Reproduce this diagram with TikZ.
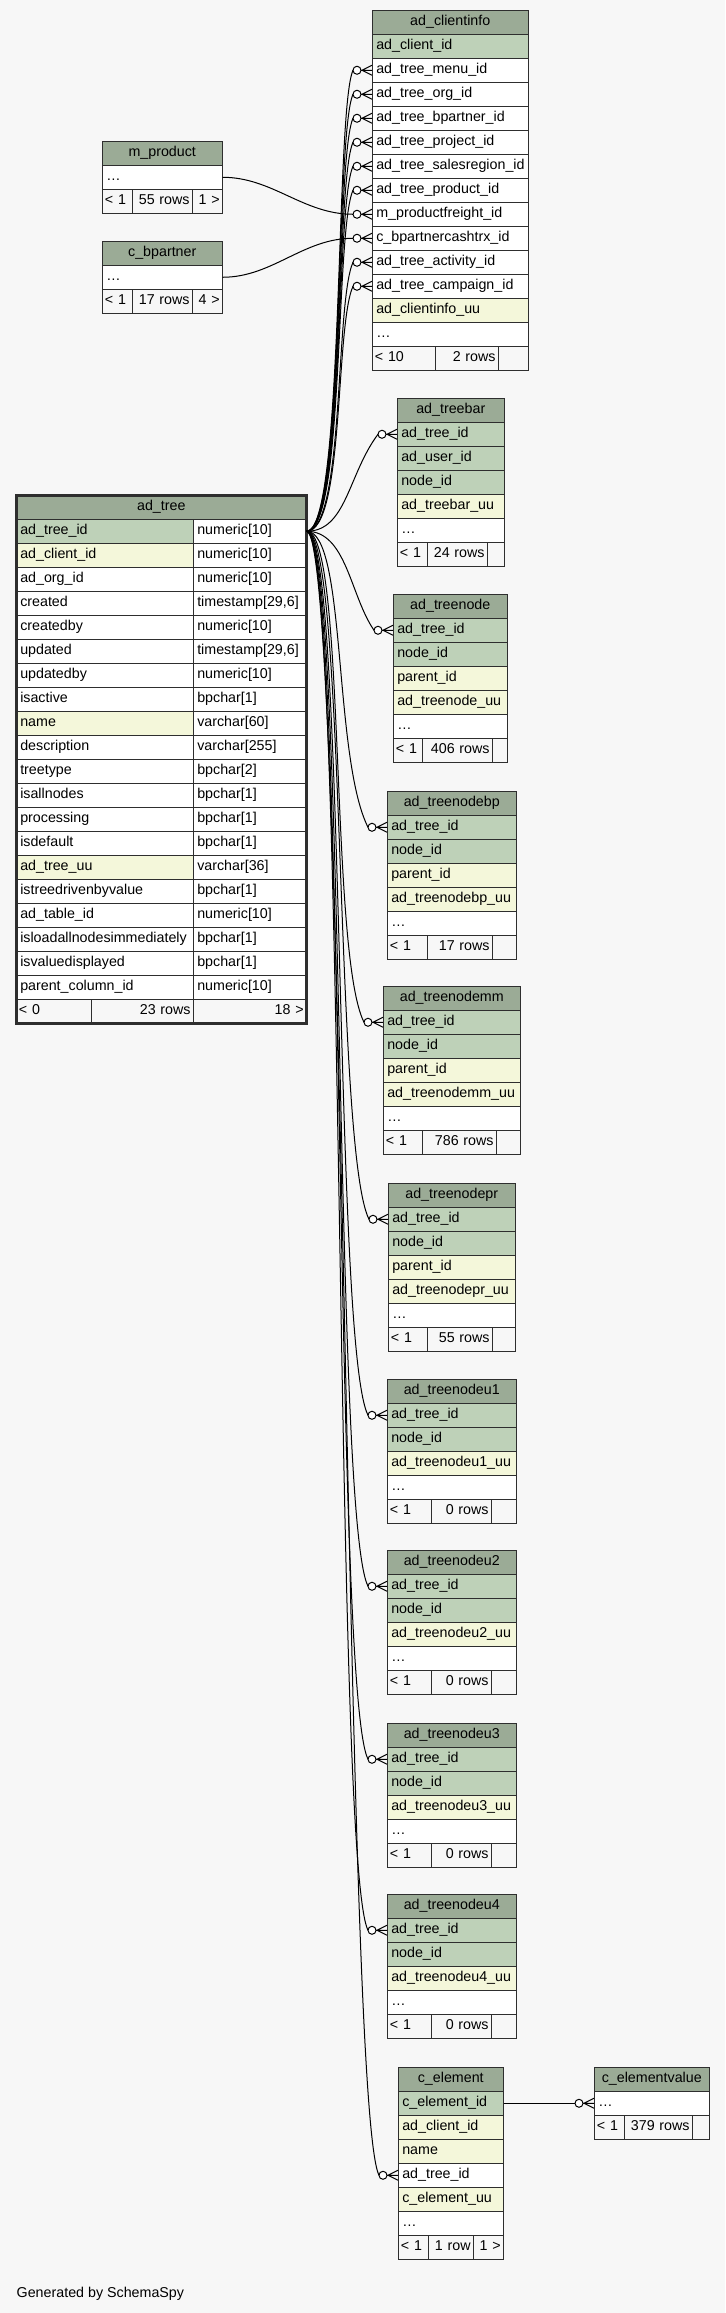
\documentclass[tikz,border=0pt]{standalone}
\usepackage{fontspec}
\setmainfont{Liberation Sans}
\usetikzlibrary{positioning, calc}

\definecolor{hdrc}{HTML}{9BAB96}
\definecolor{pkc}{HTML}{BED1B8}
\definecolor{idxc}{HTML}{F4F7DA}
\definecolor{bgc}{HTML}{F7F7F7}
\definecolor{bdr}{HTML}{2E2E2E}

% table: name, x, y (top, px), width (px), title, rows text/colour
\newcommand{\dbtable}[6]{%
  \pgfmathsetmacro\tw{#4*0.75-6}%
  \node[hdr, minimum width=#4*0.75pt] (#1) at (#2,#3) {#5};
  \foreach \txt/\clr [count=\i] in {#6} {
    \node[cell, fill=\clr, text width=\tw pt] (#1-\i) at (#2,{#3+24*\i}) {\txt};
  }%
}
% footer row: name, y, cells x-from/x-to/text/align
\newcommand{\dbfoot}[3]{%
  \foreach \xa/\xb/\txt/\al [count=\i] in {#3} {
    \pgfmathsetmacro\fw{(\xb-\xa)*0.75-4}
    \node[cell, fill=bgc, inner xsep=2pt, text width=\fw pt, align=\al] (#1-f\i) at (\xa,#2) {\mbox{\txt}};
  }%
}

\begin{document}
\begin{tikzpicture}[x=0.75pt, y=-0.75pt,
    font=\fontsize{10.7}{12}\selectfont,
    hdr/.style={draw=bdr, fill=hdrc, anchor=north west, minimum height=18pt,
      inner sep=0pt, text height=8pt, text depth=2.5pt},
    cell/.style={draw=bdr, anchor=north west, minimum height=18pt, inner xsep=3pt,
      inner ysep=0pt, text height=8pt, text depth=2.5pt, align=left},
    fk/.style={draw=black, line width=0.75pt},
    crow/.pic={
      \draw[line width=0.75pt] (-10,0) -- (0,-5) (-10,0) -- (0,0) (-10,0) -- (0,5) (-11,0) -- (-10,0);
      \draw[line width=0.75pt, fill=white] (-15,0) circle[radius=3pt];
    }
  ]
  \fill[bgc] (0,0) rectangle (725,2313);
  \useasboundingbox (0,0) rectangle (725,2313);

  % tables
  \dbtable{ci}{372}{10}{156}{ad\_clientinfo}{ad\_client\_id/pkc, ad\_tree\_menu\_id/white,
    ad\_tree\_org\_id/white, ad\_tree\_bpartner\_id/white, ad\_tree\_project\_id/white,
    ad\_tree\_salesregion\_id/white, ad\_tree\_product\_id/white, m\_productfreight\_id/white,
    c\_bpartnercashtrx\_id/white, ad\_tree\_activity\_id/white, ad\_tree\_campaign\_id/white,
    ad\_clientinfo\_uu/idxc, \ldots/white}
  \dbfoot{ci}{346}{372/435/< 10/left, 435/498/2 rows/right, 498/528//left}

  \dbtable{mp}{102}{141}{120}{m\_product}{\ldots/white}
  \dbfoot{mp}{189}{102/132/< 1/left, 132/192/55 rows/right, 192/222/1 >/right}

  \dbtable{bp}{102}{241}{120}{c\_bpartner}{\ldots/white}
  \dbfoot{bp}{289}{102/132/< 1/left, 132/192/17 rows/right, 192/222/4 >/right}

  % ad_tree, two columns
  \node[hdr, minimum width=217.5pt] (tr) at (16,495) {ad\_tree};
  \foreach \nm/\ty/\clr [count=\i] in {ad\_tree\_id/numeric[10]/pkc, ad\_client\_id/numeric[10]/idxc,
      ad\_org\_id/numeric[10]/white, created/{timestamp[29,6]}/white, createdby/numeric[10]/white,
      updated/{timestamp[29,6]}/white, updatedby/numeric[10]/white, isactive/bpchar[1]/white,
      name/varchar[60]/idxc, description/varchar[255]/white, treetype/bpchar[2]/white,
      isallnodes/bpchar[1]/white, processing/bpchar[1]/white, isdefault/bpchar[1]/white,
      ad\_tree\_uu/varchar[36]/idxc, istreedrivenbyvalue/bpchar[1]/white, ad\_table\_id/numeric[10]/white,
      isloadallnodesimmediately/bpchar[1]/white, isvaluedisplayed/bpchar[1]/white,
      parent\_column\_id/numeric[10]/white} {
    \node[cell, fill=\clr, text width=126.75pt] (tr-\i) at (16,{495+24*\i}) {\nm};
    \node[cell, fill=white, text width=78.75pt] (tr-\i-t) at (193,{495+24*\i}) {\ty};
  }
  \dbfoot{tr}{999}{16/91/< 0/left, 91/193/23 rows/right, 193/306/18 >/right}
  \draw[bdr, line width=2.25pt] (tr.north west) rectangle (tr-f3.south east);

  \dbtable{tb}{397}{398}{107}{ad\_treebar}{ad\_tree\_id/pkc, ad\_user\_id/pkc, node\_id/pkc,
    ad\_treebar\_uu/idxc, \ldots/white}
  \dbfoot{tb}{542}{397/427/< 1/left, 427/487/24 rows/right, 487/504//left}

  \dbtable{tn}{393}{594}{114}{ad\_treenode}{ad\_tree\_id/pkc, node\_id/pkc, parent\_id/idxc,
    ad\_treenode\_uu/idxc, \ldots/white}
  \dbfoot{tn}{738}{393/422/< 1/left, 422/492/406 rows/right, 492/507//left}

  \dbtable{tnbp}{387}{791}{129}{ad\_treenodebp}{ad\_tree\_id/pkc, node\_id/pkc, parent\_id/idxc,
    ad\_treenodebp\_uu/idxc, \ldots/white}
  \dbfoot{tnbp}{935}{387/427/< 1/left, 427/492/17 rows/right, 492/516//left}

  \dbtable{tnmm}{383}{986}{137}{ad\_treenodemm}{ad\_tree\_id/pkc, node\_id/pkc, parent\_id/idxc,
    ad\_treenodemm\_uu/idxc, \ldots/white}
  \dbfoot{tnmm}{1130}{383/422/< 1/left, 422/496/786 rows/right, 496/520//left}

  \dbtable{tnpr}{388}{1183}{127}{ad\_treenodepr}{ad\_tree\_id/pkc, node\_id/pkc, parent\_id/idxc,
    ad\_treenodepr\_uu/idxc, \ldots/white}
  \dbfoot{tnpr}{1327}{388/427/< 1/left, 427/492/55 rows/right, 492/515//left}

  \foreach \u/\yt in {1/1379, 2/1550, 3/1723, 4/1894} {
    \dbtable{tu\u}{387}{\yt}{129}{ad\_treenodeu\u}{ad\_tree\_id/pkc, node\_id/pkc,
      ad\_treenodeu\u\_uu/idxc, \ldots/white}
    \dbfoot{tu\u}{\yt+120}{387/431/< 1/left, 431/491/0 rows/right, 491/516//left}
  }

  \dbtable{ce}{398}{2067}{105}{c\_element}{c\_element\_id/pkc, ad\_client\_id/idxc, name/idxc,
    ad\_tree\_id/white, c\_element\_uu/idxc, \ldots/white}
  \dbfoot{ce}{2235}{398/428/< 1/left, 428/473/1 row/right, 473/503/1 >/right}

  \dbtable{cev}{594}{2067}{115}{c\_elementvalue}{\ldots/white}
  \dbfoot{cev}{2115}{594/624/< 1/left, 624/692/379 rows/right, 692/709//left}

  % foreign keys
  \foreach \r in {2,3,4,5,6,7,10,11} {
    \draw[fk] (tr-1-t.east) .. controls +(38,0) and +(-18,40) .. ([xshift=-14.25pt]ci-\r.west);
    \pic at (ci-\r.west) {crow};
  }
  \draw[fk] (mp-1.east) .. controls +(50,0) and +(-50,0) .. ([xshift=-14.25pt]ci-8.west);
  \pic at (ci-8.west) {crow};
  \draw[fk] (bp-1.east) .. controls +(50,0) and +(-50,0) .. ([xshift=-14.25pt]ci-9.west);
  \pic at (ci-9.west) {crow};

  \draw[fk] (tr-1-t.east) .. controls +(40,0) and +(-30,40) .. ([xshift=-14.25pt]tb-1.west);
  \pic at (tb-1.west) {crow};
  \draw[fk] (tr-1-t.east) .. controls +(40,0) and +(-24,-35) .. ([xshift=-14.25pt]tn-1.west);
  \pic at (tn-1.west) {crow};
  \foreach \tg in {tnbp-1, tnmm-1, tnpr-1, tu1-1, tu2-1, tu3-1, tu4-1, ce-4} {
    \draw[fk] (tr-1-t.east) .. controls +(40,0) and +(-35,-70) .. ([xshift=-14.25pt]\tg.west);
    \pic at (\tg.west) {crow};
  }
  \draw[fk] (ce-1.east) -- ([xshift=-14.25pt]cev-1.west);
  \pic at (cev-1.west) {crow};

  \node[anchor=west] (gen) at (12,2294) {Generated by SchemaSpy};
\end{tikzpicture}
\end{document}
